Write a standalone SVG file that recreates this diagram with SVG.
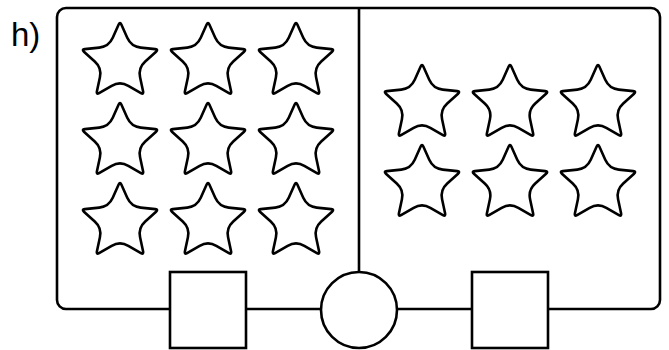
<svg xmlns="http://www.w3.org/2000/svg" xmlns:xlink="http://www.w3.org/1999/xlink" width="669" height="350" viewBox="0 0 669 350">
<style>
.ln{fill:none;stroke:#000;stroke-width:2.6;stroke-linejoin:round}
.sh{fill:#fff;stroke:#000;stroke-width:2.6}
.st{fill:#fff;stroke:#000;stroke-width:2.6;stroke-linejoin:round}
.lbl{font-family:"Liberation Sans",Arial,sans-serif;font-size:33px;fill:#000}
</style>
<defs>
<path id="star" class="st" d="M1.34,-37.48 L7.26,-24.17 Q11.17,-15.37 20.74,-14.37 L35.24,-12.86 Q38.52,-12.52 36.07,-10.31 L25.23,-0.57 Q18.07,5.87 20.08,15.28 L23.12,29.53 Q23.81,32.76 20.95,31.11 L8.33,23.82 Q0,19 -8.33,23.82 L-20.95,31.11 Q-23.81,32.76 -23.12,29.53 L-20.08,15.28 Q-18.07,5.87 -25.23,-0.57 L-36.07,-10.31 Q-38.52,-12.52 -35.24,-12.86 L-20.74,-14.37 Q-11.17,-15.37 -7.26,-24.17 L-1.34,-37.48 Q0,-40.5 1.34,-37.48 Z"/>
</defs>
<text class="lbl" x="11" y="45.5">h)</text>
<g id="box"><rect class="ln" x="57" y="8" width="603" height="301" rx="9"/></g>
<g id="connectors"><line class="ln" x1="359" y1="8" x2="359" y2="272"/></g>
<g id="left-stars">
<use xlink:href="#star" x="120" y="62"/><use xlink:href="#star" x="208" y="62"/><use xlink:href="#star" x="296" y="62"/>
<use xlink:href="#star" x="120" y="142"/><use xlink:href="#star" x="208" y="142"/><use xlink:href="#star" x="296" y="142"/>
<use xlink:href="#star" x="120" y="222"/><use xlink:href="#star" x="208" y="222"/><use xlink:href="#star" x="296" y="222"/>
</g>
<g id="right-stars">
<use xlink:href="#star" x="422" y="104"/><use xlink:href="#star" x="510" y="104"/><use xlink:href="#star" x="598" y="104"/>
<use xlink:href="#star" x="422" y="184"/><use xlink:href="#star" x="510" y="184"/><use xlink:href="#star" x="598" y="184"/>
</g>
<g id="square-left"><rect class="sh" x="170" y="272" width="76" height="76"/></g>
<g id="circle"><circle class="sh" cx="359" cy="310" r="38"/></g>
<g id="square-right"><rect class="sh" x="472" y="272" width="76" height="76"/></g>
</svg>
